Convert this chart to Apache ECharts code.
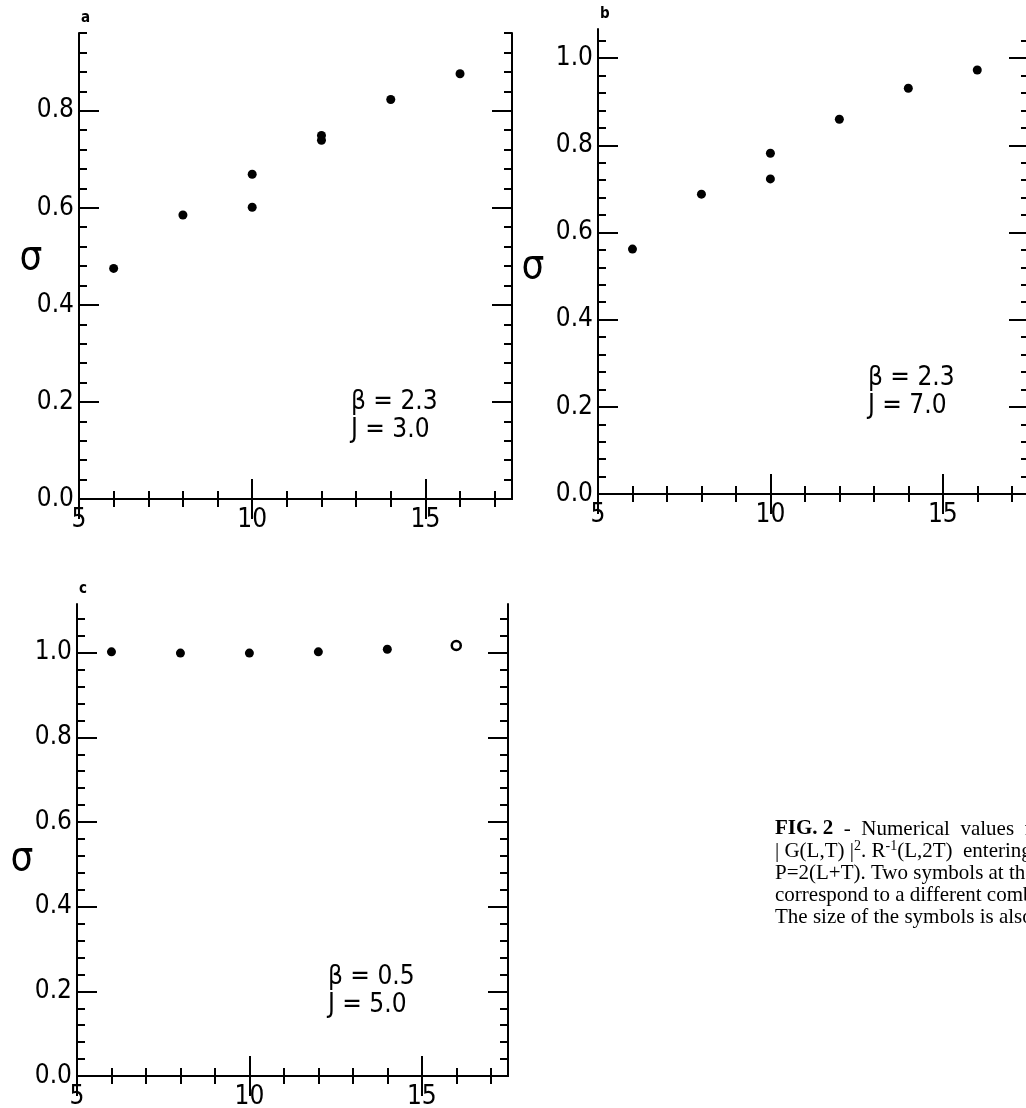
<!DOCTYPE html>
<html>
<head>
<meta charset="utf-8">
<script src="https://cdn.jsdelivr.net/npm/echarts@6/dist/echarts.min.js"></script>
<style>
  html, body { margin: 0; padding: 0; background: #fff; }
  #chart { width: 1026px; height: 1108px; }
</style>
</head>
<body>
<div id="chart"></div>
<script>
// values (x = L, y = sigma)
const lA = [6, 8, 10, 10, 12, 12, 14, 16];
const sigmaA = [0.475, 0.585, 0.669, 0.601, 0.739, 0.749, 0.823, 0.876];
const lB = [6, 8, 10, 10, 12, 14, 16];
const sigmaB = [0.562, 0.688, 0.782, 0.723, 0.860, 0.931, 0.973];
const lC = [6, 8, 10, 12, 14, 16];
const sigmaC = [1.002, 0.999, 0.999, 1.002, 1.008, 1.017];

const xTickLabels = [5, 10, 15];
const yTickLabels = [0.0, 0.2, 0.4, 0.6, 0.8, 1.0];

const FONT = "'DejaVu Sans Condensed', 'DejaVu Sans', sans-serif";
const SERIF = "'Liberation Serif', 'DejaVu Serif', serif";
const INK = '#000';

const panels = [
  { tag: 'a', left: 79, top: 33, width: 433, height: 466, yMax: 0.96, xs: lA, ys: sigmaA,
    beta: 'β = 2.3', jay: 'J = 3.0', textX: 351, textY: 402, sigmaPos: [31, 259] },
  { tag: 'b', left: 598, top: 29, width: 431, height: 465, yMax: 1.067, xs: lB, ys: sigmaB,
    beta: 'β = 2.3', jay: 'J = 7.0', textX: 868, textY: 378, sigmaPos: [533, 268] },
  { tag: 'c', left: 77, top: 604, width: 431, height: 472, yMax: 1.115, xs: lC, ys: sigmaC,
    beta: 'β = 0.5', jay: 'J = 5.0', textX: 328, textY: 977, sigmaPos: [22, 860] }
];

const lineStyle = { color: INK, width: 2 };

// minor ticks: every unit of L, every 0.04 of sigma
const xMinor = [];
for (let v = 5; v <= 17; v++) xMinor.push(v);
function yMinor(max) {
  const out = [];
  for (let k = 0; k * 0.04 <= max + 1e-9; k++) out.push(+(k * 0.04).toFixed(2));
  return out;
}

const grids = [], xAxis = [], yAxis = [], series = [], graphic = [];

panels.forEach((p, g) => {
  grids.push({ left: p.left, top: p.top, width: p.width, height: p.height,
               containLabel: false, outerBoundsMode: 'none' });

  const xb = { gridIndex: g, type: 'value', min: 5, max: 17.5, splitLine: { show: false } };
  const yb = { gridIndex: g, type: 'value', min: 0, max: p.yMax, splitLine: { show: false } };
  const ym = yMinor(p.yMax);
  const yMajor = yTickLabels.filter(v => v <= p.yMax);
  const minor = vals => ({ inside: true, length: 8, lineStyle, customValues: vals });
  const major = vals => ({ inside: true, length: 20, lineStyle, customValues: vals });
  const noLabel = { show: false };

  const xi = xAxis.length;
  xAxis.push(
    { ...xb, position: 'bottom', axisLine: { lineStyle }, axisTick: minor(xMinor), axisLabel: noLabel },
    { ...xb, position: 'bottom', axisLine: { show: false }, axisTick: major(xTickLabels),
      axisLabel: { customValues: xTickLabels, formatter: v => String(v),
                   color: INK, fontFamily: FONT, fontSize: 26, margin: 8 } },
    { ...xb, position: 'top', axisLine: { lineStyle }, axisTick: minor(xMinor), axisLabel: noLabel },
    { ...xb, position: 'top', axisLine: { show: false }, axisTick: major(xTickLabels), axisLabel: noLabel }
  );
  const yi = yAxis.length;
  yAxis.push(
    { ...yb, position: 'left', axisLine: { lineStyle }, axisTick: minor(ym), axisLabel: noLabel },
    { ...yb, position: 'left', axisLine: { show: false }, axisTick: major(yMajor),
      axisLabel: { customValues: yMajor, formatter: v => v.toFixed(1),
                   color: INK, fontFamily: FONT, fontSize: 26, margin: 5 } },
    { ...yb, position: 'right', axisLine: { lineStyle }, axisTick: minor(ym), axisLabel: noLabel },
    { ...yb, position: 'right', axisLine: { show: false }, axisTick: major(yMajor), axisLabel: noLabel }
  );

  const data = p.xs.map((x, i) => [x, p.ys[i]]);
  if (p.tag === 'c') {
    // last point in panel c is drawn as an open circle
    data[data.length - 1] = { value: data[data.length - 1],
      itemStyle: { color: '#fff', borderColor: INK, borderWidth: 2.5 } };
  }
  series.push({
    type: 'scatter', xAxisIndex: xi + 1, yAxisIndex: yi + 1,
    symbol: 'circle', symbolSize: 9, itemStyle: { color: INK, opacity: 1 },
    data, silent: true
  });

  graphic.push(
    { type: 'text', left: p.left + 2, top: p.top - 22,
      style: { text: p.tag, font: 'bold 15px ' + FONT, fill: INK } },
    { type: 'text', x: p.sigmaPos[0], y: p.sigmaPos[1],
      style: { text: 'σ', font: '40px ' + FONT, fill: INK, align: 'center', verticalAlign: 'middle' } },
    { type: 'text', x: p.textX, y: p.textY,
      style: { text: p.beta, font: '26px ' + FONT, fill: INK, verticalAlign: 'middle' } },
    { type: 'text', x: p.textX, y: p.textY + 28,
      style: { text: p.jay, font: '26px ' + FONT, fill: INK, verticalAlign: 'middle' } }
  );
});

// caption, cut off at the right edge like the scan
const captionLines = [
  '{b|FIG. 2}  -  Numerical  values  for',
  '| G(L,T) |{sup|2}. R{sup|-1}(L,2T)  entering',
  'P=2(L+T). Two symbols at the same',
  'correspond to a different combination',
  'The size of the symbols is also the error'
];
captionLines.forEach((t, i) => {
  graphic.push({
    type: 'text', x: 775, y: 829 + i * 22,
    style: {
      text: t, fill: INK, verticalAlign: 'middle',
      font: '21px ' + SERIF,
      rich: {
        b: { font: 'bold 21px ' + SERIF, fill: INK },
        sup: { font: '14px ' + SERIF, fill: INK, verticalAlign: 'top', padding: [0, 0, 10, 0] }
      }
    }
  });
});

const chart = echarts.init(document.getElementById('chart'), null, { renderer: 'canvas' });
chart.setOption({
  backgroundColor: '#fff',
  animation: false,
  grid: grids,
  xAxis,
  yAxis,
  series,
  graphic
});
</script>
</body>
</html>
